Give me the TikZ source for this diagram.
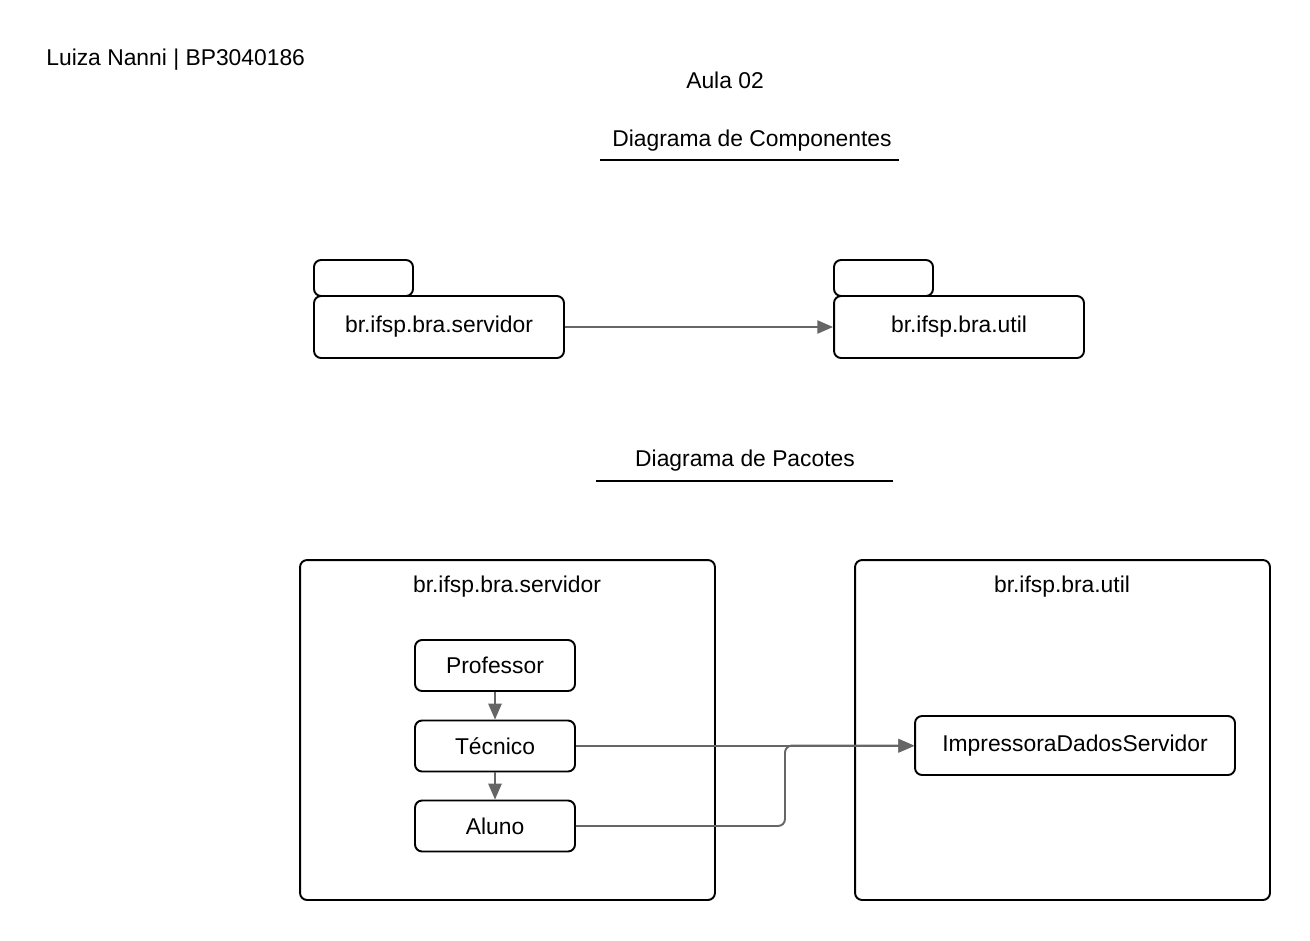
\documentclass[tikz,border=0pt]{standalone}
\usepackage{fontspec}
\setmainfont{Liberation Sans}
\usetikzlibrary{arrows.meta,positioning}

\begin{document}
\begin{tikzpicture}[
  x=0.02cm, y=-0.02cm,
  txt/.style={font=\fontsize{13}{15}\selectfont, inner sep=0pt},
  box/.style={rectangle, rounded corners=4pt, draw=black, line width=1.1pt,
              fill=white, inner sep=0pt, font=\fontsize{13}{15}\selectfont},
  tab/.style={box, minimum width=1.98cm, minimum height=0.72cm},
  comp/.style={box, minimum width=5cm, minimum height=1.24cm},
  pkg/.style={box, minimum width=8.3cm, minimum height=6.8cm},
  cls/.style={box, minimum width=3.2cm, minimum height=1.02cm},
  rule/.style={line width=0.9pt, draw=black},
  arrow/.style={-{Triangle[length=9pt, width=7.5pt]}, line width=1.1pt, draw=black!60},
]
\useasboundingbox (0,0) rectangle (1310,940);

%% Header
\node[txt, anchor=west] (autor) at (46,60) {Luiza Nanni | BP3040186};
\node[txt] (aula) at (725,80) {Aula 02};

%% Diagrama de componentes
\node[txt] (tcomp) at (752,141) {Diagrama de Componentes};
\draw[rule] (600,160) -- (899,160);

\node[tab]  (tabsrv)  at (363.5,278) {};
\node[comp] (compsrv) at (439,327) {br.ifsp.bra.servidor};
\node[tab]  (tabutil)  at (883.5,278) {};
\node[comp] (computil) at (959,327) {br.ifsp.bra.util};

\draw[arrow] (compsrv) -- (computil);

%% Diagrama de pacotes
\node[txt] (tpac) at (745,461) {Diagrama de Pacotes};
\draw[rule] (596,481) -- (893,481);

\node[pkg] (pkgsrv)  at (507.5,730) {};
\node[txt] at (507,587) {br.ifsp.bra.servidor};
\node[pkg] (pkgutil) at (1062.5,730) {};
\node[txt] at (1062,587) {br.ifsp.bra.util};

\node[cls] (prof)  at (495,665.5) {Professor};
\node[cls] (tec)   at (495,746)   {Técnico};
\node[cls] (aluno) at (495,826)   {Aluno};
\node[box, minimum width=6.4cm, minimum height=1.18cm] (impr) at (1075,745.5) {ImpressoraDadosServidor};

%% Connectors
\coordinate (bend) at (785,745.5);
\draw[arrow] (prof) -- (tec);
\draw[arrow] (tec) -- (aluno);
\draw[arrow] (tec.east) -- (tec.east -| impr.west);
\draw[arrow, rounded corners=4pt] (aluno.east) -| (bend) -- (impr.west);
\end{tikzpicture}
\end{document}
